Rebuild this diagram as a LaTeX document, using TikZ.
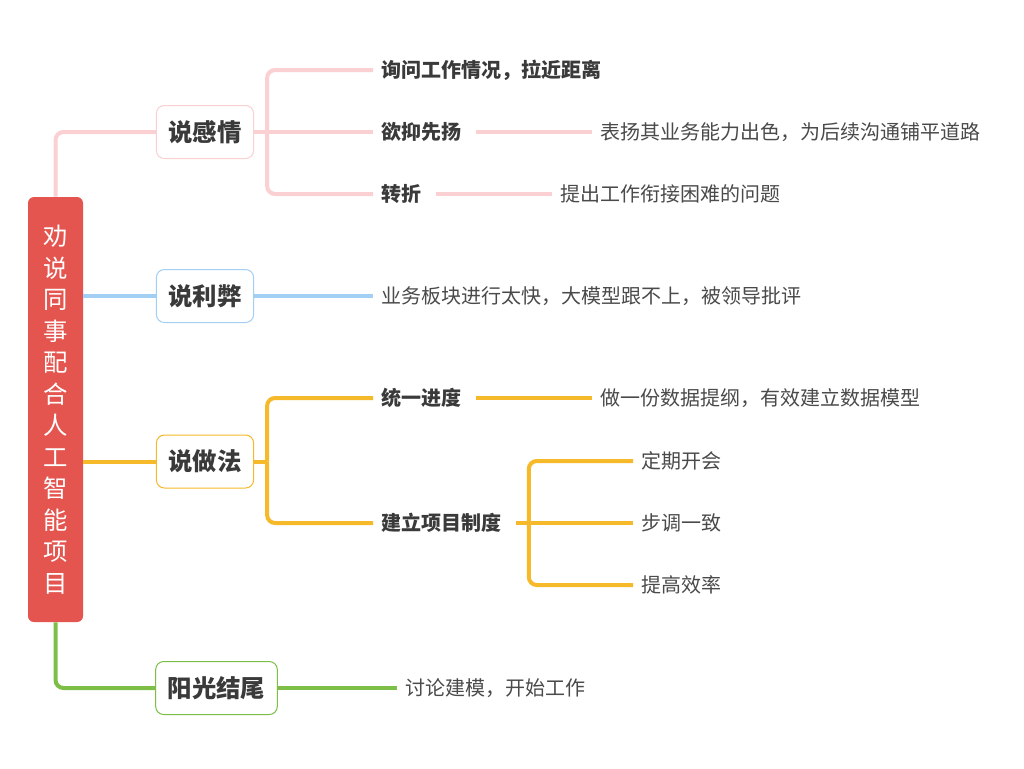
\documentclass[tikz,border=0pt]{standalone}
\usepackage{fontspec}
\setmainfont{Noto Sans CJK SC}
\definecolor{rootred}{HTML}{E4554F}
\definecolor{pinkline}{HTML}{FAD0D3}
\definecolor{blueline}{HTML}{A3CFF5}
\definecolor{orangeline}{HTML}{F5B92A}
\definecolor{greenline}{HTML}{7DBE46}
\definecolor{textgray}{HTML}{3A3A3A}
\definecolor{leafgray}{HTML}{4A4A4A}
\begin{document}
\begin{tikzpicture}[x=0.5pt, y=-0.5pt,
  branch/.style={line width=2pt, rounded corners=4pt},
  rootbox/.style={fill=rootred, text=white, rounded corners=3pt, minimum width=27.5pt,
    minimum height=212.5pt, align=center, font=\fontsize{12.2}{15.75}\selectfont},
  topic/.style={draw, fill=white, rounded corners=4pt, line width=0.5pt, minimum height=26.5pt,
    inner xsep=6pt, text=textgray, font=\fontsize{12.2}{14}\selectfont\bfseries},
  sub/.style={anchor=west, inner xsep=4pt, text=textgray, font=\fontsize{10}{12}\selectfont\bfseries},
  leaf/.style={anchor=west, inner xsep=4pt, text=leafgray, font=\fontsize{10}{12}\selectfont}]
\fill[white] (0,0) rectangle (1024,768);

% root and main topics
\node[rootbox] (root) at (55.5,409.5) {劝\\说\\同\\事\\配\\合\\人\\工\\智\\能\\项\\目};
\node[topic, draw=pinkline] (feel) at (205,132) {说感情};
\node[topic, draw=blueline] (pros) at (205,296) {说利弊};
\node[topic, draw=orangeline] (how) at (205,461.5) {说做法};
\node[topic, draw=greenline] (close) at (216.5,688) {阳光结尾};

% 说感情
\node[sub] (ask) at (373,70) {询问工作情况，拉近距离};
\node[sub] (praise) at (373,132) {欲抑先扬};
\node[leaf] (praiseL) at (592,132) {表扬其业务能力出色，为后续沟通铺平道路};
\node[sub] (turn) at (373,194) {转折};
\node[leaf] (turnL) at (552,194) {提出工作衔接困难的问题};

% 说利弊
\node[leaf] (prosL) at (373,296) {业务板块进行太快，大模型跟不上，被领导批评};

% 说做法
\node[sub] (sync) at (373,398) {统一进度};
\node[leaf] (syncL) at (592,398) {做一份数据提纲，有效建立数据模型};
\node[sub] (rule) at (373,523) {建立项目制度};
\node[leaf] (meet) at (633,461) {定期开会};
\node[leaf] (pace) at (633,523) {步调一致};
\node[leaf] (speed) at (633,585) {提高效率};

% 阳光结尾
\node[leaf] (closeL) at (397,688) {讨论建模，开始工作};

% connectors
\draw[branch, pinkline] (root.north) |- (feel.west);
\draw[branch, blueline] (root.east |- pros.west) -- (pros.west);
\draw[branch, orangeline] (root.east |- how.west) -- (how.west);
\draw[branch, greenline] (root.south) |- (close.west);

\draw[branch, pinkline] (feel.east) -- (praise.west);
\path (feel.east) -- ++(13,0) coordinate (feelJ);
\foreach \c in {ask,turn}
  \draw[branch, pinkline] (feelJ) |- (\c.west);
\draw[branch, pinkline] ([xshift=3pt]praise.east) -- (praiseL.west);
\draw[branch, pinkline] ([xshift=3pt]turn.east) -- (turnL.west);

\draw[branch, blueline] (pros.east) -- (prosL.west);

\draw[branch, orangeline] (how.east) -- ++(13,0) coordinate (howJ);
\foreach \c in {sync,rule}
  \draw[branch, orangeline] (howJ) |- (\c.west);
\draw[branch, orangeline] ([xshift=3pt]sync.east) -- (syncL.west);
\draw[branch, orangeline] ([xshift=3pt]rule.east) -- (pace.west);
\path ([xshift=3pt]rule.east) -- ++(13,0) coordinate (ruleJ);
\foreach \c in {meet,speed}
  \draw[branch, orangeline] (ruleJ) |- (\c.west);

\draw[branch, greenline] (close.east) -- (closeL.west);
\end{tikzpicture}
\end{document}
